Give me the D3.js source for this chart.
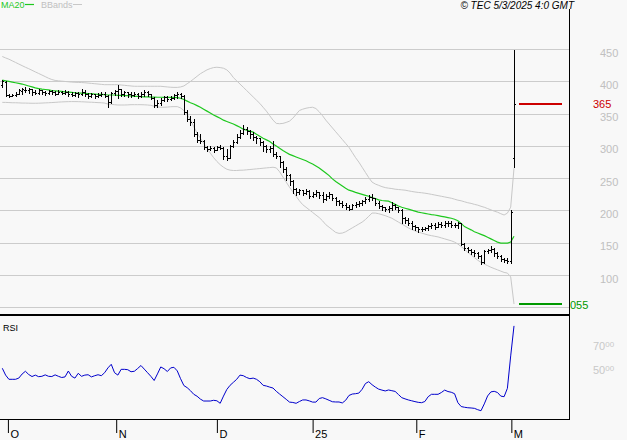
<!DOCTYPE html>
<html><head><meta charset="utf-8">
<script src="https://cdn.jsdelivr.net/npm/d3@7"></script>
<style>html,body{margin:0;padding:0;background:#f8f8f8;}svg{display:block;}</style>
</head><body><svg id="c" width="627" height="440"></svg>
<script>
// ---- data ----
const open = [395,399,379,378,379,381,385,387,386,388, 383,382,386,384,382,385,383,381,384,382,
 383,381,379,382,380,384,381,378,380,377, 379,381,378,368,382,385,388,380,383,381,
 379,381,378,380,383,380,375,364,366,371, 376,373,374,379,380,378,353,342,337,318,
 310,307,298,296,297,294,298,297,284,282, 300,306,314,320,327,323,318,314,312,306,
 300,295,297,288,284,275,264,255,246,233, 229,231,227,230,223,226,228,224,218,223,
 225,220,214,212,209,206,203,208,210,212, 214,218,221,219,212,207,205,202,204,209,
 205,201,188,185,181,176,174,171,172,173, 176,178,175,179,178,180,181,178,177,180,
 148,142,138,136,134,130,120,137,139,141, 134,130,125,123,122,281];
const high = [403,400,381,380,383,388,390,391,390,389, 386,388,387,385,387,386,385,386,385,386,
 385,383,384,383,389,386,382,382,381,382, 384,383,379,384,387,395,389,385,384,383,
 383,382,383,386,385,381,376,371,374,378, 377,377,381,383,382,379,355,346,342,322,
 318,309,300,300,299,300,302,298,295,302, 309,318,325,332,330,325,321,316,313,307,
 301,300,308,290,285,276,267,256,248,235, 234,232,234,231,228,231,229,228,226,228,
 226,221,217,214,211,208,210,213,215,217, 221,224,226,220,214,209,206,207,213,210,
 206,202,190,188,184,178,175,174,175,178, 180,181,182,182,183,183,184,180,182,181,
 150,143,140,138,136,131,139,141,145,142, 136,131,127,126,200,449];
const low = [392,377,376,377,377,380,381,383,382,379, 380,381,380,379,380,381,379,380,380,381,
 378,377,378,376,379,378,375,376,374,376, 377,376,361,366,379,375,377,378,376,376,
 377,375,376,378,377,373,360,361,364,369, 369,371,373,374,375,350,338,333,315,306,
 304,295,292,293,291,293,295,280,278,281, 298,305,312,318,319,313,310,304,302,292,
 290,291,285,281,267,260,247,240,227,224, 226,224,225,220,221,223,220,213,217,219,
 216,209,208,205,203,200,202,206,207,209, 212,215,216,208,204,201,199,198,201,202,
 198,181,180,178,172,170,167,168,169,170, 173,172,174,175,174,176,175,174,173,146,
 139,135,133,130,127,117,119,134,136,130, 127,121,120,119,119,267];
const close = [401,379,378,379,381,386,388,386,389,383, 382,386,384,382,385,383,381,384,382,383,
 381,379,382,380,384,381,378,380,377,379, 381,378,368,382,385,388,380,383,381,379,
 381,378,380,383,380,375,364,366,371,376, 373,374,379,380,378,353,342,337,318,310,
 307,298,296,297,294,298,297,284,282,300, 306,314,320,327,323,318,314,312,306,300,
 295,297,288,284,275,264,255,246,233,229, 231,227,230,223,226,228,224,218,223,225,
 220,214,212,209,206,203,208,210,212,214, 218,221,219,212,207,205,202,204,209,205,
 201,188,185,181,176,174,171,172,173,176, 178,175,179,178,180,181,178,177,180,148,
 142,138,136,134,130,120,137,139,141,134, 130,125,123,122,197,365];
const ma20 = [402,401,400,399,398,397,396,394.5,393,391.5, 390,389,388,387.5,387,386,385.5,385,384.5,384,
 383.5,383,382.5,382,382,381.5,381,381,380.5,380, 380,379.5,379,379,379,378.5,378.5,378,378,377.5,
 377,377,376.5,376,376,375.8,375.6,375.5,375.5,375.4, 375.4,375.3,375.3,375,374,372,369.5,367,365,362.5,
 360,357,354,351,348,345.5,343,340,338,336, 334,331.5,329,326,324.5,323,321.5,318,315,312,
 309.5,307,303,300,296.5,293,290,287,285,283, 281,279,277,274.5,272,269,266,262,258,254,
 249,245,241.5,238,234.5,231.5,230,228,226.5,225, 223.5,222,220,218.5,216.5,215.5,215,214.5,212,209.5,
 207,205,203.5,202,200.5,199,197.5,196.5,195.5,194.5, 193.5,193,192,191,190,189,188,186.5,184,180,
 175,172.5,170,167,165,163,161,158.5,156,153.5, 151,149.5,149.5,149.5,151,160];
const bbUpper = [438.7,436.5,434.5,432,429.5,427,424.5,422,419.8,417.3, 414.8,412.4,410,407.5,405,403,401.6,401,400.5,400,
 399.5,399,398.7,398.5,398.3,398,397.5,397,396.5,396, 395.5,395,395,395,395,395,394.5,394,393.5,393,
 392.5,392.5,392.5,392.5,392.5,392.5,392.5,392.5,392.5,392, 391.5,391,390.8,390.8,391.5,393,396.5,400,404,408,
 412,415,418,420,421.5,422,421.5,420.5,418,413, 406,401,396,391,386,381,376,371,366,360,
 354,347,340,335,334.5,335,336.5,338.5,343,349, 355,357,358.5,359.5,360,358,353,347,340,334,
 328,322,316,310,304,298,290,282,275,267, 259,251,244,241,239,237,235.5,234.6,234,233,
 232.5,232,231.5,230.5,229.5,228.7,228,227.5,226.8,226, 225,224,223,222,221,220,219,217.5,216,215,
 213.5,212,211,209.5,208.3,206.5,205,203,201,199, 197.4,195,193,195.9,205.2,265.5];
const bbLower = [367.6,367.5,367.3,367,367,366.8,366.5,366.5,366.3,366.2, 366.2,366.3,366.5,366.8,367,367.3,367.6,368,368.3,368.5,
 368.7,368.8,368.8,368.7,368.5,368.3,368,367.8,367.5,367.2, 367,366.5,365,364.5,364,363.5,363.5,363.5,363.7,364,
 364,364,364,363.8,363.5,363,361.5,360.5,360,360, 360.3,360.8,361,361,359,355,349,340,330,320,
 312,304,296,289,282,276,271,267,264,262.5, 262,262,262.4,262.5,263,263.5,264,264.5,265,265.5,
 266,266.5,267,266,260,252,244,236,229,222, 215,209,205,201,197,193,189,184,178,174,
 170,166,164.5,165,167,170,173,176,179,182, 186,191,196,196,195,193.5,192,190,188,185,
 182,179,176,173,170.5,168.5,166.5,165,163.5,162, 161,160,159,157.5,156,154.5,153,151,148,144,
 140,135,131,127,123,119.5,117,114.5,112,110, 108,106,104,103,97,55];
const rsi = [48.7,43,39.5,39.5,39.5,40.5,43.9,46.2,43.5,41.8, 43,41.7,42,43.2,42,41.8,43.2,42,41,41.5,
 46.4,42,40.5,44.5,42,43,43.3,41.5,42.5,43.3, 42.5,45,49,52,45,43,47.8,47.8,47.5,45.8,
 46.2,48.5,51,48,45,42,38.5,44,49.8,48.3, 46,49,49.5,46.5,40,34.3,32.5,30,27,25.4,
 23,21.4,21.4,21.4,22,21.6,19.5,25.5,31,34.5, 37,39.5,43,42.5,41,40,40.5,39.5,37.5,34.5,
 33.9,33,32.2,29.5,27.2,25,22.8,20.5,20.2,19.5, 21,22.3,22.3,21.5,20.5,20.5,23.5,24.2,23.2,22,
 20.8,20.6,20.6,19.8,22,26,27.2,27.5,28,31.2, 36,37.5,35,33,31.3,30.5,29.8,30.6,30,29.4,
 26.8,24.2,23.2,22.3,21.6,20.9,20.3,20,21,25, 27,27,27,28.5,30.5,29.3,28.7,27.5,20,16.8,
 16.2,15.8,15.6,15.3,14.2,13.3,19,25.6,29,29.5, 28.5,25.5,25,32,59,84];
const gridValues = [50,100,150,200,250,300,350,400,450];
const priceTickValues = [100,150,200,250,300,350,400,450];
const rsiTickValues = [50,70];
const monthTicks = [1.7,34.5,65,94,125.4,154.2];
const monthLabels = ["O","N","D","25","F","M"];
const lastLevel = 365, lastLabel = "365";
const lowLevel = 55, lowLabel = "055";
const copyright = "\u00A9 TEC 5/3/2025 4:0 GMT";

// ---- drawing ----
const svg = d3.select("#c");
const FONT = "'Liberation Sans', Arial, sans-serif";
const N = close.length;
const x = d3.scaleLinear().domain([0, N - 1]).range([2.3, 514]);
const y = d3.scaleLinear().domain([100, 450]).range([275, 49.2]);
const yR = d3.scaleLinear().domain([50, 70]).range([366.7, 342.7]);
const R = 569;

svg.append("rect").attr("width", 627).attr("height", 440).attr("fill", "#f8f8f8");

// grid
svg.append("g").selectAll("line").data(gridValues).join("line")
  .attr("x1", 0).attr("x2", R).attr("y1", d => Math.round(y(d)) + 0.5).attr("y2", d => Math.round(y(d)) + 0.5)
  .attr("stroke", "#cccccc").attr("shape-rendering", "crispEdges");

const idx = d3.range(N);
const lineOf = (arr, sc) => d3.line().x(i => x(i)).y(i => sc(arr[i]));

svg.append("path").attr("d", lineOf(bbUpper, y)(idx)).attr("fill", "none").attr("stroke", "#c8c8c8").attr("stroke-width", 1);
svg.append("path").attr("d", lineOf(bbLower, y)(idx)).attr("fill", "none").attr("stroke", "#c8c8c8").attr("stroke-width", 1);
svg.append("path").attr("d", lineOf(ma20, y)(idx)).attr("fill", "none").attr("stroke", "#1ec81e").attr("stroke-width", 1.2);

// OHLC bars
const bars = svg.append("g").attr("fill", "#000").attr("shape-rendering", "crispEdges");
idx.forEach(i => {
  const cx = Math.round(x(i));
  const yh = Math.round(y(high[i])), yl = Math.round(y(low[i]));
  bars.append("rect").attr("x", cx).attr("width", 1).attr("y", yh).attr("height", Math.max(1, yl - yh + 1));
  bars.append("rect").attr("x", cx - 1).attr("width", 1).attr("y", Math.round(y(open[i]))).attr("height", 1);
  bars.append("rect").attr("x", cx + 1).attr("width", 1).attr("y", Math.round(y(close[i]))).attr("height", 1);
});

// level lines
svg.append("line").attr("x1", 519).attr("x2", 562).attr("y1", y(lastLevel)).attr("y2", y(lastLevel)).attr("stroke", "#cc0000").attr("stroke-width", 2);
svg.append("line").attr("x1", 519).attr("x2", 562).attr("y1", y(lowLevel)).attr("y2", y(lowLevel)).attr("stroke", "#009900").attr("stroke-width", 2);

// RSI
svg.append("path").attr("d", lineOf(rsi, yR)(idx)).attr("fill", "none").attr("stroke", "#0000cc").attr("stroke-width", 1);

// frame lines
svg.append("line").attr("x1", R + 0.5).attr("x2", R + 0.5).attr("y1", 9).attr("y2", 420).attr("stroke", "#000").attr("shape-rendering", "crispEdges");
svg.append("line").attr("x1", 0).attr("x2", R + 1).attr("y1", 315).attr("y2", 315).attr("stroke", "#000").attr("stroke-width", 2).attr("shape-rendering", "crispEdges");
svg.append("line").attr("x1", 0).attr("x2", R + 1).attr("y1", 419.5).attr("y2", 419.5).attr("stroke", "#000").attr("shape-rendering", "crispEdges");

// x axis
const xAxis = d3.axisBottom(x).tickValues(monthTicks).tickFormat((d, i) => monthLabels[i]).tickSizeInner(14).tickSizeOuter(0);
const gx = svg.append("g").attr("transform", "translate(0,419)").call(xAxis);
gx.select(".domain").remove();
gx.selectAll(".tick line").attr("stroke", "#000");
gx.selectAll(".tick text").attr("text-anchor", "start").attr("x", 2).attr("y", 18.5).attr("dy", null)
  .attr("fill", "#000").style("font", "11px " + FONT);

// price labels
svg.append("g").selectAll("text").data(priceTickValues).join("text")
  .attr("x", 600).attr("y", d => y(d) + 7.5).text(d => d)
  .attr("fill", "#c0c0c0").style("font", "11px " + FONT);

// RSI labels
const rl = svg.append("g").selectAll("text").data(rsiTickValues).join("text")
  .attr("x", 593).attr("y", d => yR(d) + 7.5).attr("fill", "#c8c8c8").style("font", "11px " + FONT);
rl.append("tspan").text(d => d);
rl.append("tspan").attr("dy", -3).style("font-size", "8px").text("00");

// level labels
svg.append("text").attr("x", 593).attr("y", y(lastLevel) + 4).text(lastLabel).attr("fill", "#cc0000").style("font", "11px " + FONT);
svg.append("text").attr("x", 570).attr("y", y(lowLevel) + 4.5).text(lowLabel).attr("fill", "#009900").style("font", "11px " + FONT);

// legend
svg.append("text").attr("x", 1).attr("y", 8).text("MA20").attr("fill", "#1ec81e").style("font", "9px " + FONT);
svg.append("line").attr("x1", 25).attr("x2", 34).attr("y1", 4.5).attr("y2", 4.5).attr("stroke", "#1ec81e").attr("stroke-width", 1.2);
svg.append("text").attr("x", 41).attr("y", 8).text("BBands").attr("fill", "#c0c0c0").style("font", "9px " + FONT);
svg.append("line").attr("x1", 73).attr("x2", 82).attr("y1", 4.5).attr("y2", 4.5).attr("stroke", "#c8c8c8").attr("stroke-width", 1);
svg.append("text").attr("x", 3).attr("y", 331).text("RSI").attr("fill", "#000").style("font", "9px " + FONT);
svg.append("text").attr("x", 574).attr("y", 8.5).attr("text-anchor", "end").text(copyright)
  .attr("fill", "#000").style("font", "italic 10px " + FONT);
</script></body></html>
